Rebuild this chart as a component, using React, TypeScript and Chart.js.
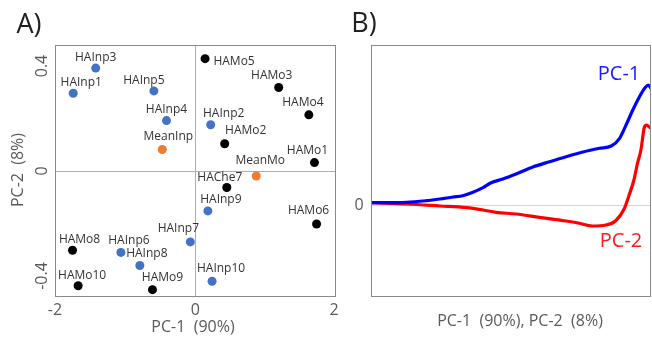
import React, { useEffect, useRef } from "react";
import { Chart, registerables } from "chart.js";

Chart.register(...registerables);

// ---------- Panel A data (PCA scores) ----------
const sampleNames = [
  "HAInp1", "HAInp2", "HAInp3", "HAInp4", "HAInp5", "HAInp6", "HAInp7", "HAInp8", "HAInp9", "HAInp10",
  "HAMo1", "HAMo2", "HAMo3", "HAMo4", "HAMo5", "HAMo6", "HAMo8", "HAMo9", "HAMo10", "HAChe7",
  "MeanInp", "MeanMo",
];
const pc1Scores = [
  -1.74, 0.22, -1.42, -0.41, -0.59, -1.06, -0.07, -0.79, 0.18, 0.24,
  1.7, 0.42, 1.19, 1.62, 0.14, 1.73, -1.75, -0.61, -1.67, 0.45,
  -0.47, 0.87,
];
const pc2Scores = [
  0.296, 0.176, 0.392, 0.192, 0.305, -0.31, -0.27, -0.36, -0.152, -0.42,
  0.032, 0.104, 0.318, 0.214, 0.428, -0.202, -0.302, -0.452, -0.437, -0.063,
  0.082, -0.019,
];
const sampleGroups = [
  "Inp", "Inp", "Inp", "Inp", "Inp", "Inp", "Inp", "Inp", "Inp", "Inp",
  "Mo", "Mo", "Mo", "Mo", "Mo", "Mo", "Mo", "Mo", "Mo", "Mo",
  "Mean", "Mean",
];
const xTicksA = [-2, 0, 2];
const yTicksA = [-0.4, 0, 0.4];

// ---------- Panel B data (loadings curves) ----------
const pc1LoadX = [0, 12.7, 19.8, 24.6, 29.3, 32.8, 36.4, 40.0, 42.9, 47.1, 51.8, 57.8, 63.8, 69.7, 75.7, 81.6, 85.8, 88.8, 91.1, 93.5, 95.9, 98.0, 99.0, 100];
const pc1LoadY = [0.023, 0.027, 0.043, 0.06, 0.08, 0.093, 0.127, 0.173, 0.223, 0.26, 0.31, 0.38, 0.433, 0.483, 0.53, 0.567, 0.59, 0.667, 0.8, 0.95, 1.083, 1.177, 1.2, 1.167];
const pc2LoadX = [0, 12.7, 24.6, 34.1, 40.0, 44.7, 51.8, 60.1, 69.6, 74.4, 79.1, 83.9, 87.4, 90.4, 92.2, 93.9, 95.2, 96.4, 97.6, 98.3, 99.3, 100];
const pc2LoadY = [0.023, 0.01, -0.01, -0.027, -0.05, -0.073, -0.09, -0.123, -0.16, -0.183, -0.21, -0.2, -0.157, -0.04, 0.1, 0.25, 0.42, 0.55, 0.775, 0.8, 0.783, 0.767];
const yTicksB = [0];

// ---------- styles / layout ----------
const FONT = "'Open Sans', 'DejaVu Sans', sans-serif";
const groupColors: Record<string, string> = { Inp: "#4472C4", Mo: "#000000", Mean: "#ED7D31" };
const labelOffsets: [number, number][] = [
  [8, -11], [13, -11], [0, -11], [0, -11], [-10, -10], [8, -12], [-12, -13], [7, -12], [13, -11], [9, -13],
  [-7, -12], [21, -13], [-7, -12], [-6, -12], [29, 3], [-8, -13], [7, -11], [10, -12], [4, -10], [-7, -10],
  [6, -13], [4, -15],
];
const CROSS = "#8fb2ea";
const CROSS_B = "#c4d5f2";
const BORDER = "#8a8a8a";
const TICKC = "#5a5a5a";

function fixedTicks(vals: number[]) {
  return (scale: any) => {
    scale.ticks = vals.map((v) => ({ value: v }));
  };
}

function hLine(ctx: any, a: any, y: number, color: string) {
  const py = Math.round(y) + 0.5;
  ctx.save();
  ctx.strokeStyle = color;
  ctx.lineWidth = 1;
  ctx.beginPath();
  ctx.moveTo(a.left, py);
  ctx.lineTo(a.right, py);
  ctx.stroke();
  ctx.restore();
}
function vLine(ctx: any, a: any, x: number, color: string) {
  const px = Math.round(x) + 0.5;
  ctx.save();
  ctx.strokeStyle = color;
  ctx.lineWidth = 1;
  ctx.beginPath();
  ctx.moveTo(px, a.top);
  ctx.lineTo(px, a.bottom);
  ctx.stroke();
  ctx.restore();
}

const panelAPlugin = {
  id: "panelA",
  beforeDatasetsDraw(chart: any) {
    const { ctx, chartArea: a, scales } = chart;
    vLine(ctx, a, scales.x.getPixelForValue(0), CROSS);
    hLine(ctx, a, scales.y.getPixelForValue(0), CROSS);
  },
  afterDatasetsDraw(chart: any) {
    const { ctx, chartArea: a, scales } = chart;
    ctx.save();
    ctx.strokeStyle = BORDER;
    ctx.lineWidth = 1;
    ctx.strokeRect(Math.round(a.left) + 0.5, Math.round(a.top) + 0.5, Math.round(a.right - a.left) - 1, Math.round(a.bottom - a.top) - 1);
    // point labels
    const meta = chart.getDatasetMeta(0);
    ctx.fillStyle = "#333";
    ctx.font = `12px ${FONT}`;
    ctx.textAlign = "center";
    ctx.textBaseline = "middle";
    meta.data.forEach((pt: any, i: number) => {
      const [dx, dy] = labelOffsets[i];
      ctx.fillText(sampleNames[i], pt.x + dx, pt.y + dy);
    });
    // y ticks (rotated)
    ctx.fillStyle = TICKC;
    ctx.font = `16px ${FONT}`;
    yTicksA.forEach((v) => {
      const y = scales.y.getPixelForValue(v);
      ctx.save();
      ctx.translate(42, y);
      ctx.rotate(-Math.PI / 2);
      ctx.fillText(String(v), 0, 0);
      ctx.restore();
    });
    // x ticks
    xTicksA.forEach((v) => {
      const x = scales.x.getPixelForValue(v);
      ctx.fillText(String(v), Math.min(x, 334), 310);
    });
    // axis titles
    ctx.fillText("PC-1  (90%)", 193, 327);
    ctx.save();
    ctx.translate(18, 170);
    ctx.rotate(-Math.PI / 2);
    ctx.fillText("PC-2  (8%)", 0, 0);
    ctx.restore();
    // panel letter
    ctx.fillStyle = "#222";
    ctx.font = `27px ${FONT}`;
    ctx.fillText("A)", 29, 25);
    ctx.restore();
  },
};

const panelBPlugin = {
  id: "panelB",
  beforeDatasetsDraw(chart: any) {
    const { ctx, chartArea: a, scales } = chart;
    yTicksB.forEach((v) => hLine(ctx, a, scales.y.getPixelForValue(v), CROSS_B));
  },
  afterDatasetsDraw(chart: any) {
    const { ctx, chartArea: a, scales } = chart;
    ctx.save();
    ctx.strokeStyle = BORDER;
    ctx.lineWidth = 1;
    ctx.strokeRect(Math.round(a.left) + 0.5, Math.round(a.top) + 0.5, Math.round(a.right - a.left) - 1, Math.round(a.bottom - a.top) - 1);
    ctx.textAlign = "center";
    ctx.textBaseline = "middle";
    ctx.fillStyle = TICKC;
    ctx.font = `16px ${FONT}`;
    yTicksB.forEach((v) => {
      ctx.fillText(String(v), 19, scales.y.getPixelForValue(v));
    });
    ctx.fillText("PC-1  (90%), PC-2  (8%)", 180, 321);
    ctx.font = `20px ${FONT}`;
    ctx.fillStyle = "#1a1aff";
    ctx.fillText("PC-1", 279, 74);
    ctx.fillStyle = "#ff1a1a";
    ctx.fillText("PC-2", 281, 241);
    ctx.fillStyle = "#222";
    ctx.font = `27px ${FONT}`;
    ctx.fillText("B)", 24, 24);
    ctx.restore();
  },
};

export default function App() {
  const refA = useRef<HTMLCanvasElement>(null);
  const refB = useRef<HTMLCanvasElement>(null);

  useEffect(() => {
    const chartA = new Chart(refA.current!, {
      type: "scatter",
      data: {
        datasets: [
          {
            data: pc1Scores.map((x, i) => ({ x, y: pc2Scores[i] })),
            pointBackgroundColor: sampleGroups.map((g) => groupColors[g]),
            pointBorderWidth: 0,
            pointRadius: 4.5,
          },
        ],
      },
      options: {
        animation: false,
        responsive: false,
        layout: { padding: { top: 45, right: 3, left: 0, bottom: 0 } },
        plugins: { legend: { display: false }, tooltip: { enabled: false } },
        scales: {
          x: {
            type: "linear",
            min: -2,
            max: 2,
            afterBuildTicks: fixedTicks(xTicksA),
            afterFit: (s: any) => { s.height = 40; },
            ticks: { display: false },
            border: { display: false },
            grid: { display: false },
          },
          y: {
            type: "linear",
            min: -0.48,
            max: 0.48,
            afterBuildTicks: fixedTicks(yTicksA),
            afterFit: (s: any) => { s.width = 55; },
            ticks: { display: false },
            border: { display: false },
            grid: { display: false },
          },
        },
      },
      plugins: [panelAPlugin],
    });

    const chartB = new Chart(refB.current!, {
      type: "line",
      data: {
        datasets: [
          {
            label: "PC-1",
            data: pc1LoadX.map((x, i) => ({ x, y: pc1LoadY[i] })),
            borderColor: "#0000ff",
            borderWidth: 3.2,
            pointRadius: 0,
            cubicInterpolationMode: "monotone",
            fill: false,
          },
          {
            label: "PC-2",
            data: pc2LoadX.map((x, i) => ({ x, y: pc2LoadY[i] })),
            borderColor: "#ff0000",
            borderWidth: 3.2,
            pointRadius: 0,
            cubicInterpolationMode: "monotone",
            fill: false,
          },
        ],
      },
      options: {
        animation: false,
        responsive: false,
        layout: { padding: { top: 45, right: 1, left: 0, bottom: 0 } },
        plugins: { legend: { display: false }, tooltip: { enabled: false } },
        scales: {
          x: {
            type: "linear",
            min: 0,
            max: 100,
            afterFit: (s: any) => { s.height = 40; },
            ticks: { display: false },
            border: { display: false },
            grid: { display: false },
          },
          y: {
            type: "linear",
            min: -0.92,
            max: 1.6,
            afterBuildTicks: fixedTicks(yTicksB),
            afterFit: (s: any) => { s.width = 31; },
            ticks: { display: false },
            border: { display: false },
            grid: { display: false },
          },
        },
      },
      plugins: [panelBPlugin],
    });

    return () => {
      chartA.destroy();
      chartB.destroy();
    };
  }, []);

  return (
    <div style={{ position: "fixed", left: 0, top: 0, width: 652, height: 337, background: "#fff" }}>
      <canvas ref={refA} width={340} height={337} style={{ position: "absolute", left: 0, top: 0 }} />
      <canvas ref={refB} width={312} height={337} style={{ position: "absolute", left: 340, top: 0 }} />
    </div>
  );
}
